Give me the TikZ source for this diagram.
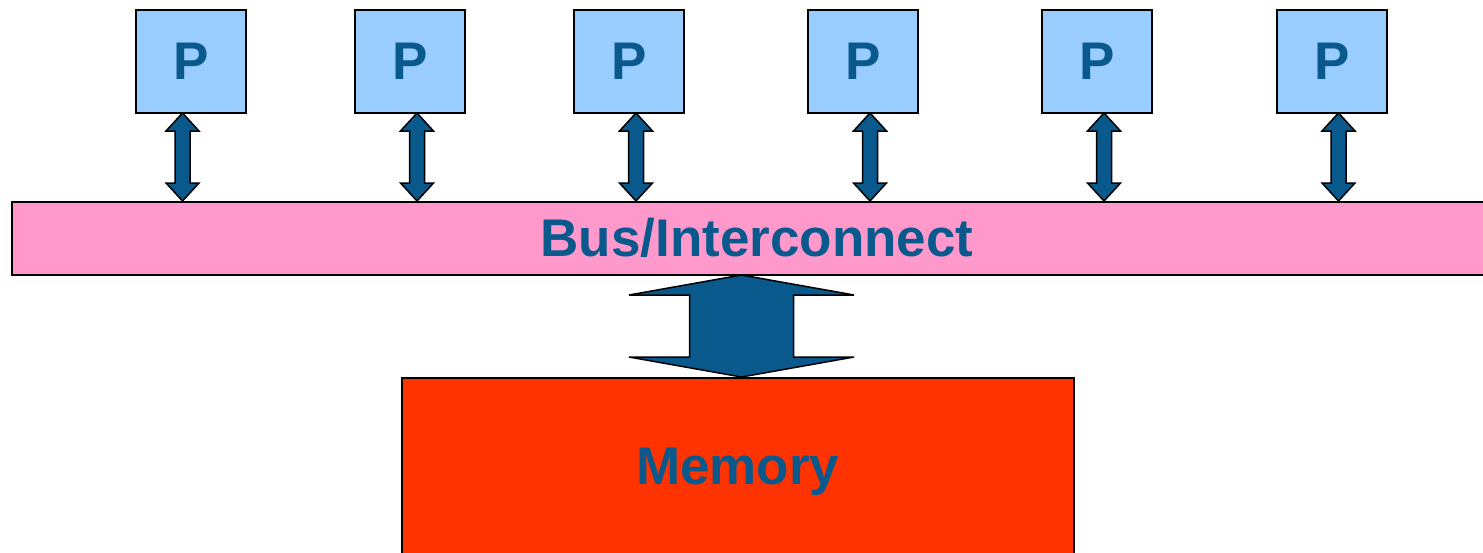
\documentclass[tikz,border=0pt]{standalone}
\usepackage{fontspec}
\setmainfont{Liberation Sans}
\definecolor{pblue}{HTML}{99CCFF}
\definecolor{buspink}{HTML}{FF99CC}
\definecolor{memred}{HTML}{FF3300}
\definecolor{dblue}{RGB}{9,89,140}
\newcommand{\dblarr}[6]{% x, ytop, ybot, headhalf, shafthalf, headlen
  \filldraw[arrowfill] (#1,#2) -- (#1+#4,#2+#6) -- (#1+#5,#2+#6) -- (#1+#5,#3-#6) -- (#1+#4,#3-#6)
    -- (#1,#3) -- (#1-#4,#3-#6) -- (#1-#5,#3-#6) -- (#1-#5,#2+#6) -- (#1-#4,#2+#6) -- cycle;}
\begin{document}
\begin{tikzpicture}[x=1pt,y=-1pt,
  lbl/.style={text=dblue,font=\fontsize{53}{60}\selectfont\bfseries},
  pbox/.style={draw=black,line width=1.5pt,fill=pblue,minimum width=110pt,minimum height=103pt,inner sep=0pt,lbl},
  arrowfill/.style={draw=black,line width=1.5pt,fill=dblue,line join=miter}]
\useasboundingbox (0,0) rectangle (1483,552);
\fill[white] (0,0) rectangle (1483,552);
% bus
\node[draw=black,line width=1.5pt,fill=buspink,minimum width=1485pt,minimum height=73pt,inner sep=0pt,anchor=north west] (bus) at (11,201) {};
\node[lbl] (bustxt) at (757,238) {Bus/Interconnect};
% memory
\node[draw=black,line width=1.5pt,fill=memred,minimum width=672pt,minimum height=188pt,inner sep=0pt,anchor=north west,lbl] (mem) at (401,377) {Memory};
% processors
\foreach \i/\x in {1/191,2/410,3/629,4/863,5/1097,6/1332}
  {\node[pbox] (p\i) at (\x,61.5) {P};}
% small arrows
\foreach \ax in {182.5,417,636,870,1104,1338.5}
  {\dblarr{\ax}{113}{201}{16.5}{7.5}{18}}
% big arrow
\dblarr{741.5}{275}{377}{112.5}{52}{20}
\end{tikzpicture}
\end{document}
